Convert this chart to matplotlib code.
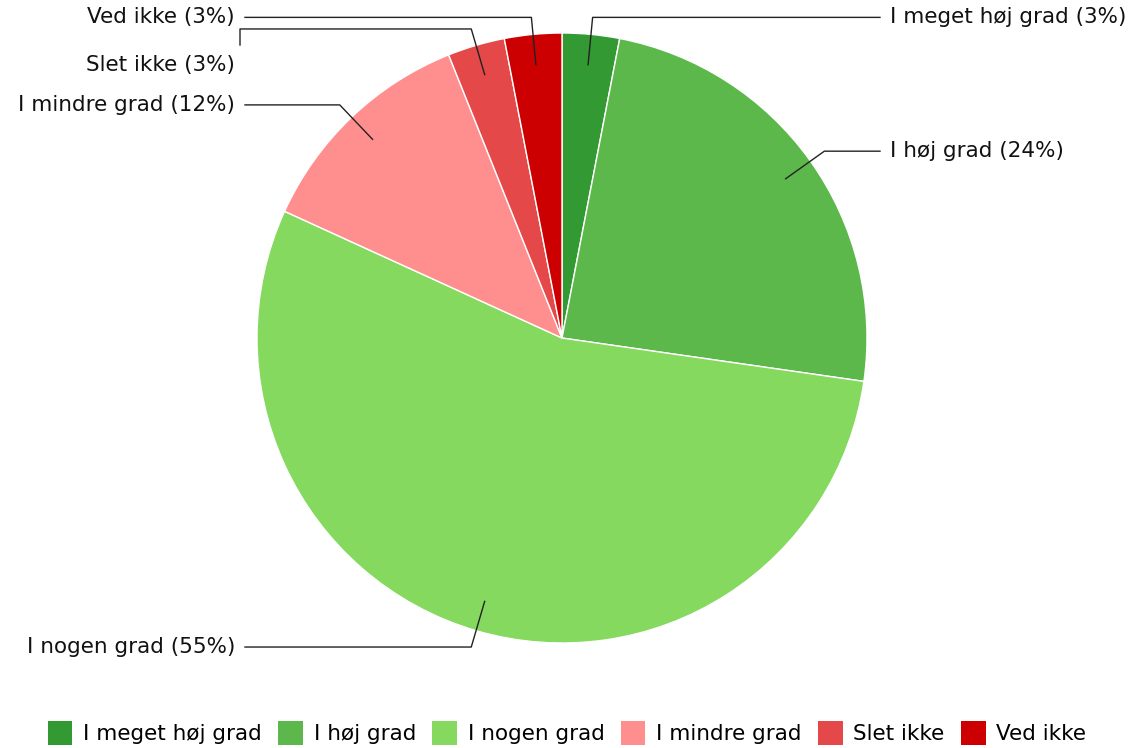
import numpy as np
import matplotlib
matplotlib.use("Agg")
import matplotlib.pyplot as plt
from matplotlib.patches import Patch

# survey answers (counts, 33 respondents)
labels = ["I meget høj grad", "I høj grad", "I nogen grad", "I mindre grad", "Slet ikke", "Ved ikke"]
counts = [1, 8, 18, 4, 1, 1]
colors = ["#339933", "#5cb84a", "#84d95e", "#ff8f8f", "#e54848", "#cc0000"]

W, H = 1134, 748
fig = plt.figure(figsize=(W / 100, H / 100), dpi=100)
ax = fig.add_axes([0, 0, 1, 1])

cx, cy, R = 562, H - 338, 305
wedges, _ = ax.pie(counts, colors=colors, startangle=90, counterclock=False,
                   center=(cx, cy), radius=R, frame=True,
                   wedgeprops=dict(edgecolor="white", linewidth=1))
ax.set_xlim(0, W)
ax.set_ylim(0, H)
ax.set_aspect("equal")
ax.axis("off")

fs = 15.5
total = sum(counts)
for i, w in enumerate(wedges):
    mid = np.deg2rad((w.theta1 + w.theta2) / 2)
    pct = round(100 * counts[i] / total)
    txt = f"{labels[i]} ({pct}%)"
    p0 = (cx + 0.9 * R * np.cos(mid), cy + 0.9 * R * np.sin(mid))
    p1 = (cx + 1.056 * R * np.cos(mid), cy + 1.056 * R * np.sin(mid))
    right = np.cos(mid) > 0
    xe = 880 if right else 245
    xs = [p0[0], p1[0], xe]
    ys = [p0[1], p1[1], p1[1]]
    ty = p1[1]
    if labels[i] == "Slet ikke":
        # pushed down so it does not overlap "Ved ikke"
        xe = 240
        xs = [p0[0], p1[0], xe, xe]
        ys = [p0[1], p1[1], p1[1], H - 45]
        ty = H - 65
    ax.plot(xs, ys, color="#222222", lw=1)
    tx = 890 if right else 235
    ax.text(tx, ty, txt, fontsize=fs, ha="left" if right else "right",
            va="center", color="#111111")

handles = [Patch(facecolor=c, edgecolor="none") for c in colors]
fig.legend(handles, labels, loc="center", bbox_to_anchor=(0.5, 1 - 733 / H),
           ncol=6, frameon=False, fontsize=fs, handlelength=1.15, handleheight=1.3,
           handletextpad=0.5, columnspacing=0.75)

fig.savefig("out.png", dpi=100, facecolor="white")
